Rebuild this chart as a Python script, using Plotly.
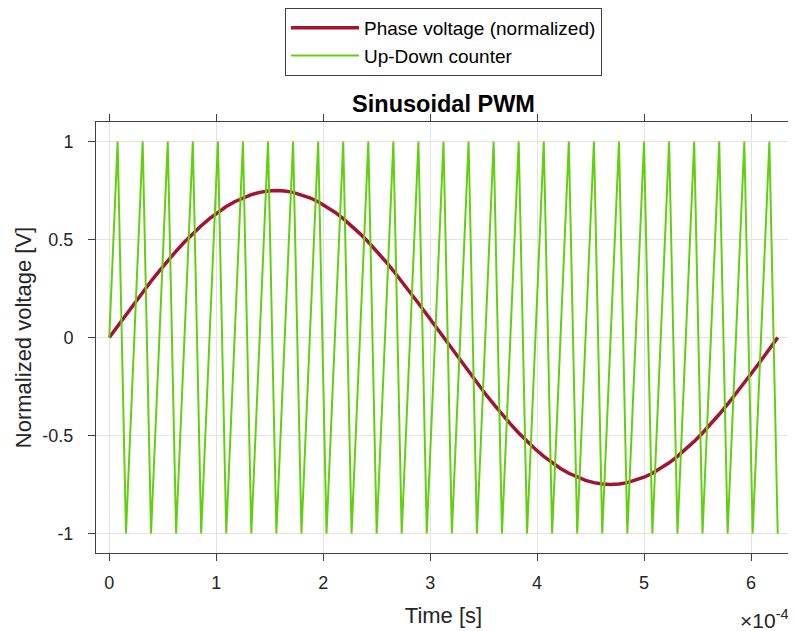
import plotly.graph_objects as go

# Time axis in units of 1e-4 s (axis shows "x10^-4")
time_1e4s = [
    0.0, 0.078125, 0.15625, 0.234375, 0.3125, 0.390625, 0.46875, 0.546875, 0.625, 0.703125,
    0.78125, 0.859375, 0.9375, 1.015625, 1.09375, 1.171875, 1.25, 1.328125, 1.40625, 1.484375,
    1.5625, 1.640625, 1.71875, 1.796875, 1.875, 1.953125, 2.03125, 2.109375, 2.1875, 2.265625,
    2.34375, 2.421875, 2.5, 2.578125, 2.65625, 2.734375, 2.8125, 2.890625, 2.96875, 3.046875,
    3.125, 3.203125, 3.28125, 3.359375, 3.4375, 3.515625, 3.59375, 3.671875, 3.75, 3.828125,
    3.90625, 3.984375, 4.0625, 4.140625, 4.21875, 4.296875, 4.375, 4.453125, 4.53125, 4.609375,
    4.6875, 4.765625, 4.84375, 4.921875, 5.0, 5.078125, 5.15625, 5.234375, 5.3125, 5.390625,
    5.46875, 5.546875, 5.625, 5.703125, 5.78125, 5.859375, 5.9375, 6.015625, 6.09375, 6.171875,
    6.25,
]

phase_voltage = [
    0.0, 0.0588, 0.1173, 0.1751, 0.2318, 0.2870, 0.3405, 0.3919, 0.4408, 0.4871,
    0.5303, 0.5703, 0.6068, 0.6395, 0.6683, 0.6929, 0.7133, 0.7293, 0.7408, 0.7477,
    0.75, 0.7477, 0.7408, 0.7293, 0.7133, 0.6929, 0.6683, 0.6395, 0.6068, 0.5703,
    0.5303, 0.4871, 0.4408, 0.3919, 0.3405, 0.2870, 0.2318, 0.1751, 0.1173, 0.0588,
    0.0, -0.0588, -0.1173, -0.1751, -0.2318, -0.2870, -0.3405, -0.3919, -0.4408, -0.4871,
    -0.5303, -0.5703, -0.6068, -0.6395, -0.6683, -0.6929, -0.7133, -0.7293, -0.7408, -0.7477,
    -0.75, -0.7477, -0.7408, -0.7293, -0.7133, -0.6929, -0.6683, -0.6395, -0.6068, -0.5703,
    -0.5303, -0.4871, -0.4408, -0.3919, -0.3405, -0.2870, -0.2318, -0.1751, -0.1173, -0.0588,
    0.0,
]

updown_counter = [
    0, 1, -1, 0, 1, -1, 0, 1, -1, 0, 1, -1, 0, 1, -1, 0, 1, -1, 0, 1, -1,
    0, 1, -1, 0, 1, -1, 0, 1, -1, 0, 1, -1, 0, 1, -1, 0, 1, -1, 0, 1, -1,
    0, 1, -1, 0, 1, -1, 0, 1, -1, 0, 1, -1, 0, 1, -1, 0, 1, -1, 0, 1, -1,
    0, 1, -1, 0, 1, -1, 0, 1, -1, 0, 1, -1, 0, 1, -1, 0, 1, -1,
]

x_tick_values = [0, 1, 2, 3, 4, 5, 6]
x_tick_labels = ["0", "1", "2", "3", "4", "5", "6"]
y_tick_values = [-1, -0.5, 0, 0.5, 1]
y_tick_labels = ["-1", "-0.5", "0", "0.5", "1"]

FONT = "Liberation Sans, Arial, Helvetica, sans-serif"
TXT = "#262626"
AX = "#404040"
GRID = "#e3e3e3"

# page body adds an 8px offset, so the figure is 8px smaller than the window
W, H = 788, 623
L, R, T, B = 88, 5, 114, 78
PH = H - T - B

fig = go.Figure()
fig.add_trace(go.Scatter(
    x=time_1e4s, y=phase_voltage, mode="lines",
    name="Phase voltage (normalized)",
    line=dict(color="#A2142F", width=3.5),
))
fig.add_trace(go.Scatter(
    x=time_1e4s, y=updown_counter, mode="lines",
    name="Up-Down counter",
    line=dict(color="#62D010", width=2),
))

fig.update_layout(
    width=W, height=H,
    margin=dict(l=L, r=R, t=T, b=B, autoexpand=False),
    paper_bgcolor="white", plot_bgcolor="white",
    font=dict(family=FONT, color=TXT, size=18),
    title=dict(
        text="<b>Sinusoidal PWM</b>",
        x=(L + (W - L - R) / 2) / W, xref="container", xanchor="center",
        y=1 - 96 / H, yref="container", yanchor="middle",
        font=dict(family=FONT, size=23.5, color="black"),
    ),
    legend=dict(
        x=(L + (W - L - R) / 2) / W, xanchor="center", xref="container",
        y=1 + 2 / H, yanchor="top", yref="container",
        bgcolor="white", bordercolor=AX, borderwidth=1,
        font=dict(family=FONT, size=19, color="black"),
        itemwidth=68,
        tracegroupgap=0,
    ),
    showlegend=True,
)

fig.update_xaxes(
    range=[-0.124, 6.374],
    tickvals=x_tick_values, ticktext=x_tick_labels,
    showgrid=True, gridcolor=GRID, gridwidth=1,
    zeroline=False, automargin=False,
    showline=True, linecolor=AX, linewidth=1, mirror="ticks",
    ticks="outside", ticklen=7, tickcolor=AX, tickwidth=1,
    ticklabelstandoff=6,
    title=dict(text="Time [s]", font=dict(size=22, color=TXT), standoff=16),
    tickfont=dict(size=18, color=TXT),
)
fig.update_yaxes(
    range=[-1.1, 1.1],
    tickvals=y_tick_values, ticktext=y_tick_labels,
    showgrid=True, gridcolor=GRID, gridwidth=1,
    zeroline=False, automargin=False,
    showline=True, linecolor=AX, linewidth=1, mirror="ticks",
    ticks="outside", ticklen=7, tickcolor=AX, tickwidth=1,
    ticklabelstandoff=11,
    title=dict(text="Normalized voltage [V]", font=dict(size=22, color=TXT), standoff=4),
    tickfont=dict(size=18, color=TXT),
)

fig.add_annotation(
    text="×10<sup>-4</sup>", xref="paper", yref="paper",
    x=1.0, y=-(611 - (H - B)) / PH, xanchor="right", yanchor="middle",
    showarrow=False, font=dict(family=FONT, size=21, color=TXT),
)

fig.write_html("out.html")
